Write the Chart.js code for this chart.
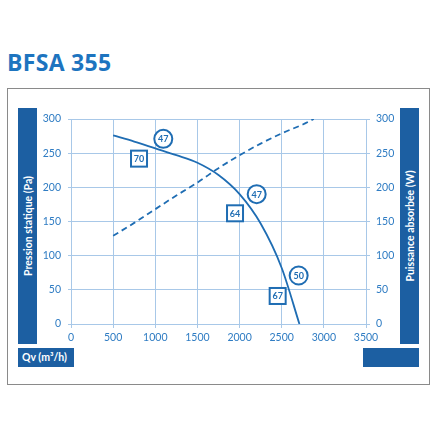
<!DOCTYPE html>
<html>
<head>
<meta charset="utf-8">
<script src="https://cdn.jsdelivr.net/npm/chart.js@4"></script>
<style>
  html, body { margin: 0; padding: 0; background: #fff; }
  body { width: 440px; height: 440px; position: relative; overflow: hidden; font-family: Lato, sans-serif; }
  .title { position: absolute; left: 7px; top: 46px; font-family: "Open Sans", sans-serif; font-size: 23px; font-weight: bold; color: #1d74bf; letter-spacing: 0.3px; }
  .frame { position: absolute; left: 7px; top: 88px; width: 421px; height: 295px; border: 1.5px solid #8a8a8a; }
  .bar { position: absolute; background: #1c5fa2; color: #fff; font-weight: bold; font-size: 10.5px; }
  .vtext { position: absolute; left: 50%; top: 50%; white-space: nowrap; transform: translate(-50%, -50%) rotate(-90deg); }
  canvas { position: absolute; left: 0; top: 0; }
</style>
</head>
<body>
<div class="title">BFSA 355</div>
<div class="frame"></div>
<div class="bar" style="left:18px;top:108px;width:19px;height:236px;"><span class="vtext">Pression statique (Pa)</span></div>
<div class="bar" style="left:400px;top:108px;width:19px;height:236px;"><span class="vtext">Puissance absorbée (W)</span></div>
<div class="bar" style="left:18px;top:348px;width:56px;height:19px;line-height:19px;"><span style="margin-left:4px;">Qv (m³/h)</span></div>
<div class="bar" style="left:363px;top:348px;width:56px;height:19px;"></div>
<canvas id="chart" width="440" height="440"></canvas>
<script>
// pressure curve (Pa) against flow (m3/h)
const flowPressure = [500, 750, 1000, 1250, 1500, 1750, 2000, 2250, 2500, 2710];
const pressure = [276, 267, 257, 247, 236, 218, 190, 147, 82, 0];

// absorbed power (W), dashed
const flowPower = [500, 750, 1000, 1250, 1500, 1750, 2000, 2250, 2500, 2750, 2880];
const power = [129, 148, 168, 188, 207, 228, 247, 264, 279, 292, 300];

// noise labels: circles and boxes
const circleFlow = [1095, 2203, 2701];
const circleLevel = [271, 190, 71];
const circleText = ['47', '47', '50'];
const boxFlow = [807, 1946, 2452];
const boxLevel = [242, 162, 41];
const boxText = ['70', '64', '67'];

const blue = '#1f6db3';
const tickBlue = '#2f7cc3';
const gridBlue = '#a8c8e8';

const labelPlugin = {
  id: 'labels',
  afterDatasetsDraw(chart) {
    const ctx = chart.ctx;
    const xs = chart.scales.x, ys = chart.scales.y;
    ctx.save();
    ctx.lineWidth = 2;
    ctx.strokeStyle = blue;
    ctx.textAlign = 'center';
    ctx.textBaseline = 'middle';
    ctx.font = 'bold 9px Lato';
    circleFlow.forEach((f, i) => {
      const px = xs.getPixelForValue(f), py = ys.getPixelForValue(circleLevel[i]);
      ctx.beginPath();
      ctx.arc(px, py, 9, 0, Math.PI * 2);
      ctx.fillStyle = '#fff';
      ctx.fill();
      ctx.stroke();
      ctx.fillStyle = blue;
      ctx.fillText(circleText[i], px, py + 0.5);
    });
    boxFlow.forEach((f, i) => {
      const px = xs.getPixelForValue(f), py = ys.getPixelForValue(boxLevel[i]);
      ctx.fillStyle = '#fff';
      ctx.fillRect(px - 8, py - 8, 16, 16);
      ctx.strokeRect(px - 8, py - 8, 16, 16);
      ctx.fillStyle = blue;
      ctx.fillText(boxText[i], px, py + 0.5);
    });
    ctx.restore();
  }
};

const tickFont = { family: 'Lato', size: 10.5 };
const plain = v => String(v);

new Chart(document.getElementById('chart'), {
  type: 'line',
  data: {
    datasets: [{
      label: 'Pression',
      data: flowPressure.map((f, i) => ({ x: f, y: pressure[i] })),
      borderColor: blue,
      borderWidth: 1.8,
      pointRadius: 0,
      cubicInterpolationMode: 'monotone',
      fill: false,
      yAxisID: 'y'
    }, {
      label: 'Puissance',
      data: flowPower.map((f, i) => ({ x: f, y: power[i] })),
      borderColor: blue,
      borderWidth: 1.8,
      borderDash: [6, 4],
      pointRadius: 0,
      cubicInterpolationMode: 'monotone',
      fill: false,
      yAxisID: 'y1'
    }]
  },
  options: {
    responsive: false,
    animation: false,
    layout: { padding: { top: 119, left: 0, right: 0, bottom: 0 } },
    plugins: { legend: { display: false }, tooltip: { enabled: false } },
    scales: {
      x: {
        type: 'linear', min: 0, max: 3500,
        afterFit(scale) { scale.height = 116; },
        ticks: { stepSize: 500, color: tickBlue, font: tickFont, padding: 3, maxRotation: 0, callback: plain },
        grid: { color: gridBlue, tickLength: 4 },
        border: { color: gridBlue }
      },
      y: {
        position: 'left', min: 0, max: 300,
        afterFit(scale) { scale.width = 71; },
        ticks: { stepSize: 50, color: tickBlue, font: tickFont, padding: 7, callback: plain },
        grid: { color: gridBlue, tickLength: 3 },
        border: { color: gridBlue }
      },
      y1: {
        position: 'right', min: 0, max: 300,
        afterFit(scale) { scale.width = 74; },
        ticks: { stepSize: 50, color: tickBlue, font: tickFont, padding: 6, callback: plain },
        grid: { color: gridBlue, tickLength: 4, drawOnChartArea: false },
        border: { color: gridBlue }
      }
    }
  },
  plugins: [labelPlugin]
});
</script>
</body>
</html>
